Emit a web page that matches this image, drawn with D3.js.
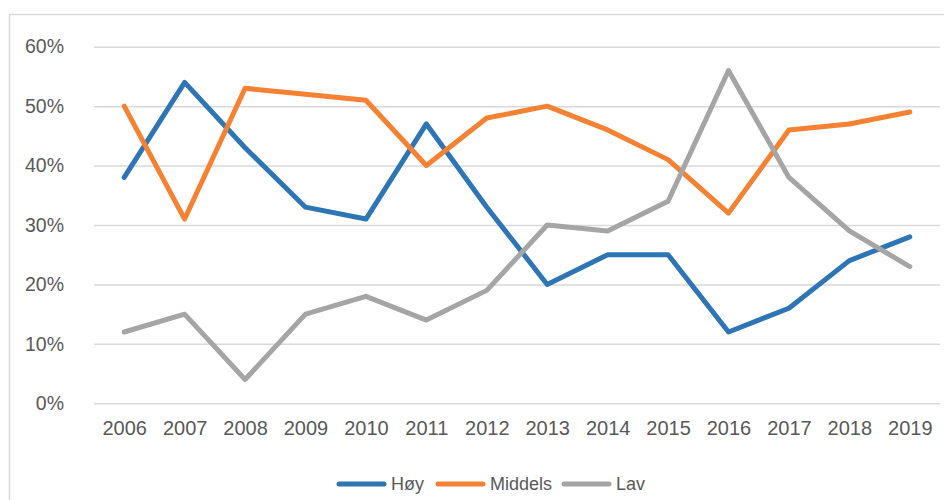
<!DOCTYPE html>
<html><head><meta charset="utf-8">
<script src="https://cdn.jsdelivr.net/npm/d3@7"></script>
<style>body{margin:0;background:#fff}svg{display:block}</style>
</head><body>
<svg id="c" width="944" height="500"></svg>
<script>
const years = ["2006","2007","2008","2009","2010","2011","2012","2013","2014","2015","2016","2017","2018","2019"];
const hoy = [38,54,43,33,31,47,33,20,25,25,12,16,24,28];
const middels = [50,31,53,52,51,40,48,50,46,41,32,46,47,49];
const lav = [12,15,4,15,18,14,19,30,29,34,56,38,29,23];
const yTicks = [0,10,20,30,40,50,60];
const seriesNames = ["Høy","Middels","Lav"];
const colors = ["#2E75B6","#F58132","#A5A5A5"];

const svg = d3.select("#c");
const font = "'Liberation Sans', Arial, sans-serif";
const textColor = "#595959";

svg.append("rect").attr("x",9.5).attr("y",14.5).attr("width",960).attr("height",520)
  .attr("fill","#fff").attr("stroke","#D9D9D9").attr("stroke-width",1.5);

const x = d3.scalePoint().domain(years).range([94,940]).padding(0.5);
const y = d3.scaleLinear().domain([0,60]).range([403.3,46.7]);

// gridlines
const gy = svg.append("g").attr("transform","translate(94,0)")
  .call(d3.axisLeft(y).tickValues(yTicks).tickSize(-846).tickFormat(d=>d+"%").tickPadding(30));
gy.select(".domain").remove();
gy.selectAll(".tick line").attr("stroke","#D9D9D9").attr("stroke-width",1.5);
gy.selectAll(".tick text").attr("fill",textColor).attr("font-family",font).attr("font-size",19.5);

const gx = svg.append("g").attr("transform","translate(0,403.3)")
  .call(d3.axisBottom(x).tickSize(0).tickPadding(18));
gx.select(".domain").remove();
gx.selectAll(".tick text").attr("fill",textColor).attr("font-family",font).attr("font-size",20);

const data = [hoy, middels, lav];
const line = d3.line().x((d,i)=>x(years[i])).y(d=>y(d));
data.forEach((s,k)=>{
  svg.append("path").datum(s).attr("d",line).attr("fill","none")
    .attr("stroke",colors[k]).attr("stroke-width",5)
    .attr("stroke-linecap","round").attr("stroke-linejoin","round");
});

// legend
const legX = [339, 438, 564];
const lg = svg.append("g");
seriesNames.forEach((n,k)=>{
  lg.append("line").attr("x1",legX[k]).attr("x2",legX[k]+45).attr("y1",484).attr("y2",484)
    .attr("stroke",colors[k]).attr("stroke-width",5).attr("stroke-linecap","round");
  lg.append("text").attr("x",legX[k]+52).attr("y",490).text(n)
    .attr("fill",textColor).attr("font-family",font).attr("font-size",18);
});
</script>
</body></html>
